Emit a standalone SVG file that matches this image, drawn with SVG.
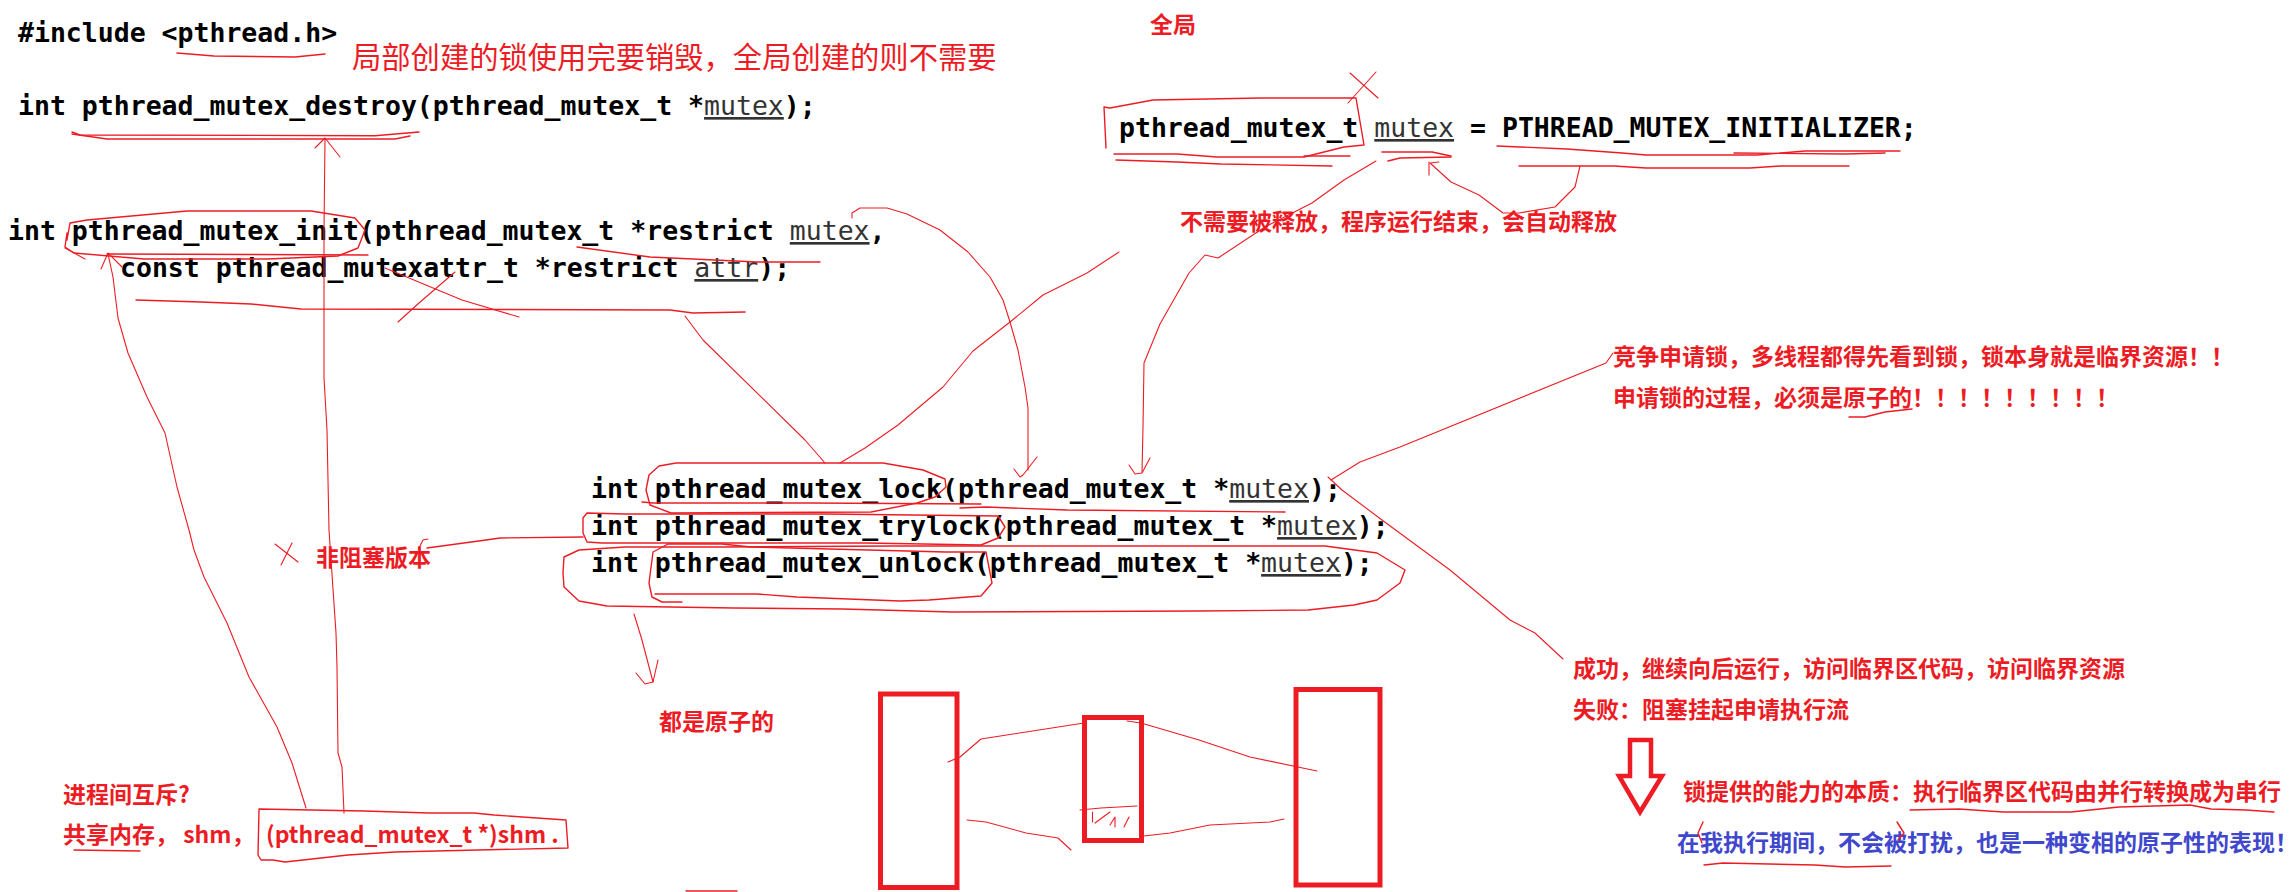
<svg xmlns="http://www.w3.org/2000/svg" width="2296" height="892" viewBox="0 0 2296 892">
<style>
.code{font-family:"DejaVu Sans Mono","Liberation Mono",monospace;font-size:26.5px;font-weight:700;fill:#000}
.link{font-weight:400;fill:#333;text-decoration:underline}
.note{font-family:"Noto Sans CJK SC","Noto Sans",sans-serif;font-size:23px;font-weight:700;fill:#ed1c24}
.blue{fill:#3f48cc}
.big{font-size:29.3px;font-weight:400}
.s{fill:none;stroke:#ed1c24;stroke-width:1.4;stroke-linejoin:round;stroke-linecap:round}
.t{stroke-width:1.1}
.r{fill:none;stroke:#ed1c24;stroke-width:5}
</style>
<rect width="2296" height="892" fill="#fff"/>
<g id="code">
<text class="code" x="18" y="42">#include &lt;pthread.h&gt;</text>
<text class="code" x="18" y="115">int pthread_mutex_destroy(pthread_mutex_t *<tspan class="link">mutex</tspan>);</text>
<text class="code" x="8" y="240">int pthread_mutex_init(pthread_mutex_t *restrict <tspan class="link">mutex</tspan>,</text>
<text class="code" x="120" y="277">const pthread_mutexattr_t *restrict <tspan class="link">attr</tspan>);</text>
<text class="code" x="1119" y="137">pthread_mutex_t <tspan class="link">mutex</tspan> = PTHREAD_MUTEX_INITIALIZER;</text>
<text class="code" x="591" y="498">int pthread_mutex_lock(pthread_mutex_t *<tspan class="link">mutex</tspan>);</text>
<text class="code" x="591" y="535">int pthread_mutex_trylock(pthread_mutex_t *<tspan class="link">mutex</tspan>);</text>
<text class="code" x="591" y="572">int pthread_mutex_unlock(pthread_mutex_t *<tspan class="link">mutex</tspan>);</text>
</g>
<g id="notes">
<text class="note big" x="352" y="68">局部创建的锁使用完要销毁，全局创建的则不需要</text>
<text class="note" x="1150" y="33">全局</text>
<text class="note" x="1180" y="230">不需要被释放，程序运行结束，会自动释放</text>
<text class="note" x="1613" y="365">竞争申请锁，多线程都得先看到锁，锁本身就是临界资源！！</text>
<text class="note" x="1613" y="406">申请锁的过程，必须是原子的！！！！！！！！！</text>
<text class="note" x="316" y="566">非阻塞版本</text>
<text class="note" x="659" y="730">都是原子的</text>
<text class="note" x="63" y="803">进程间互斥?</text>
<text class="note" x="63" y="843">共享内存， shm，</text>
<text class="note" x="266" y="843">(pthread_mutex_t *)shm .</text>
<text class="note" x="1573" y="677">成功，继续向后运行，访问临界区代码，访问临界资源</text>
<text class="note" x="1573" y="718">失败：阻塞挂起申请执行流</text>
<text class="note" x="1683" y="800">锁提供的能力的本质：执行临界区代码由并行转换成为串行</text>
<text class="note blue" x="1677" y="851">在我执行期间，不会被打扰，也是一种变相的原子性的表现！</text>
</g>
<g id="boxes">
<rect class="r" x="880.5" y="694" width="76.5" height="193.5"/>
<rect class="r" x="1084.5" y="717.5" width="57" height="123"/>
<rect class="r" x="1296" y="689.5" width="84" height="195.5"/>
<polygon points="1630,740 1651,740 1651,776 1662,776 1640,812 1619,776 1630,776" fill="none" stroke="#ed1c24" stroke-width="4.5"/>
</g>
<g id="connectors">
<polyline class="s" points="177,53 214,56 295,57 325,54"/>
<polyline class="s" points="72,132 80,135 375,135.7 419,132"/>
<polyline class="s" points="72,134 107,139 395,139 410,136"/>
<polyline class="s t" points="344,813 342,767 338,753 337,667 336,633 329,530 327,430 324,378 324,230 325,139"/>
<polyline class="s t" points="315,148 325,138 340,157"/>
<polyline class="s" points="67,240 70,223 87,220 187,211 311,211 355,218 365,230 358,248 338,256 268,259 144,259 74,253 65,247 67,233"/>
<polyline class="s" points="107,254 368,255"/>
<polyline class="s t" points="65,248 85,259"/>
<polyline class="s" points="577,247 650,257 757,262 820,262"/>
<polyline class="s" points="136,300 201,302 251,304 301,309 670,310 693,313 745,312"/>
<polyline class="s t" points="398,322 419,303 455,272"/>
<polyline class="s t" points="385,268 462,300 519,317"/>
<polyline class="s t" points="685,316 703,340 805,440 825,463"/>
<polyline class="s t" points="840,463 865,448 898,425 943,387 973,351 1010,322 1043,295 1087,273 1119,252"/>
<polyline class="s t" points="852,218 852,213 860,208 887,208 907,214 940,230 968,252 990,277 1003,300 1010,322 1018,350 1025,387 1028,408 1028,470"/>
<polyline class="s t" points="1014,469 1020,477 1023,475 1037,457"/>
<polyline class="s" points="1106,148 1104,107 1110,108 1153,100 1261,98 1356,98 1364,145 1344,147 1304,157 1217,157 1177,154 1114,154"/>
<polyline class="s t" points="1350,73 1378,98"/>
<polyline class="s t" points="1376,72 1348,103"/>
<polyline class="s" points="1304,156 1350,156"/>
<polyline class="s" points="1116,160 1177,162 1221,164 1332,166"/>
<polyline class="s" points="1382,152 1432,152 1451,156"/>
<polyline class="s" points="1388,161 1400,158 1451,157"/>
<polyline class="s t" points="1376,161 1344,180 1312,203 1265,227 1218,258 1205,255 1189,273 1160,324 1144,363 1143,427 1142,472"/>
<polyline class="s t" points="1129,465 1135,474 1142,473 1150,458"/>
<polyline class="s t" points="1429,162 1429,175"/>
<polyline class="s t" points="1439,162 1430,163 1451,182 1479,195 1503,213 1519,213 1555,207 1575,187 1580,166"/>
<polyline class="s" points="1497,146 1567,149 1622,153 1646,155 1757,155 1805,151 1900,151"/>
<polyline class="s" points="1734,153 1845,154 1885,153"/>
<polyline class="s" points="1519,166 1614,166 1646,168 1750,168 1781,166 1849,166"/>
<polyline class="s" points="1849,417 1865,417 1885,412 1912,409"/>
<polyline class="s t" points="1331,480 1360,462 1400,447 1606,363 1613,353"/>
<polyline class="s t" points="1328,477 1342,490 1382,520 1450,570 1510,620 1535,633 1563,659"/>
<polyline class="s" points="649,475 659,466 676,463 883,463 923,470 945,479 946,487 935,497 917,503 871,512 671,513 650,505 646,490 649,475"/>
<polyline class="s" points="642,502 653,503 808,503 981,504"/>
<polyline class="s" points="960,508 986,507 1067,510 1285,512"/>
<polyline class="s" points="583,518 587,513 625,514 826,514 998,516 1005,527 998,538 981,545 866,543 602,543 587,542 583,533 583,518"/>
<polyline class="s" points="583,537 500,538 486,540 427,548"/>
<polyline class="s t" points="419,548 423,540 428,539"/>
<polyline class="s t" points="275,544 298,562"/>
<polyline class="s t" points="292,543 281,565"/>
<polyline class="s" points="682,602 662,602 652,597 649,583 653,552 668,544 722,544 751,547 946,552 986,552 992,583 981,596 929,600 900,601 797,597 757,594 655,594"/>
<polyline class="s" points="563,573 564,557 579,550 625,547 722,547 894,546 1325,546 1377,553 1405,570 1400,583 1377,600 1354,605 1308,610 1199,611 952,612 843,609 734,608 607,606 579,601 564,587 563,573"/>
<polyline class="s t" points="634,614 642,640 653,682 645,684 636,673"/>
<polyline class="s t" points="653,682 658,660"/>
<polyline class="s t" points="948,762 960,757 981,739 1026,732 1084,723"/>
<polyline class="s t" points="1127,721 1141,723 1199,740 1250,757 1317,771"/>
<polyline class="s t" points="967,820 986,822 1026,833 1058,838 1071,850"/>
<polyline class="s t" points="1144,836 1170,833 1210,825 1270,822 1284,819"/>
<polyline class="s t" points="1080,810 1101,808 1137,806"/>
<polyline class="s t" points="1092.5,812 1092.5,822"/>
<polyline class="s t" points="1095,823 1110,812"/>
<polyline class="s t" points="1110,825 1115,817 1115,827"/>
<polyline class="s t" points="1124,827 1129,817"/>
<polyline class="s" points="686,891 737,891"/>
<polyline class="s" points="259,810 258,855 261,860 273,860 285,862 348,855 395,852 478,850 568,848 566,820 494,815 474,813 429,813 364,811 259,809"/>
<polyline class="s" points="74,850 140,851"/>
<polyline class="s t" points="306,808 292,763 277,727 249,677 227,623 204,577 194,550 189,530 177,487 165,433 147,397 128,353 118,318 113,277 108,254"/>
<polyline class="s t" points="101,269 108,253 122,267"/>
<polyline class="s" points="1910,810 1959,809 2003,812 2071,812 2119,807 2190,805 2211,809 2246,810 2274,812"/>
<polyline class="s" points="1703,822 1698,833 1702,843"/>
<polyline class="s" points="1897,822 1904,833 1898,840"/>
<polyline class="s" points="1704,865 1723,863 1769,864 1815,865 1845,867 1891,866"/>
</g>
</svg>
